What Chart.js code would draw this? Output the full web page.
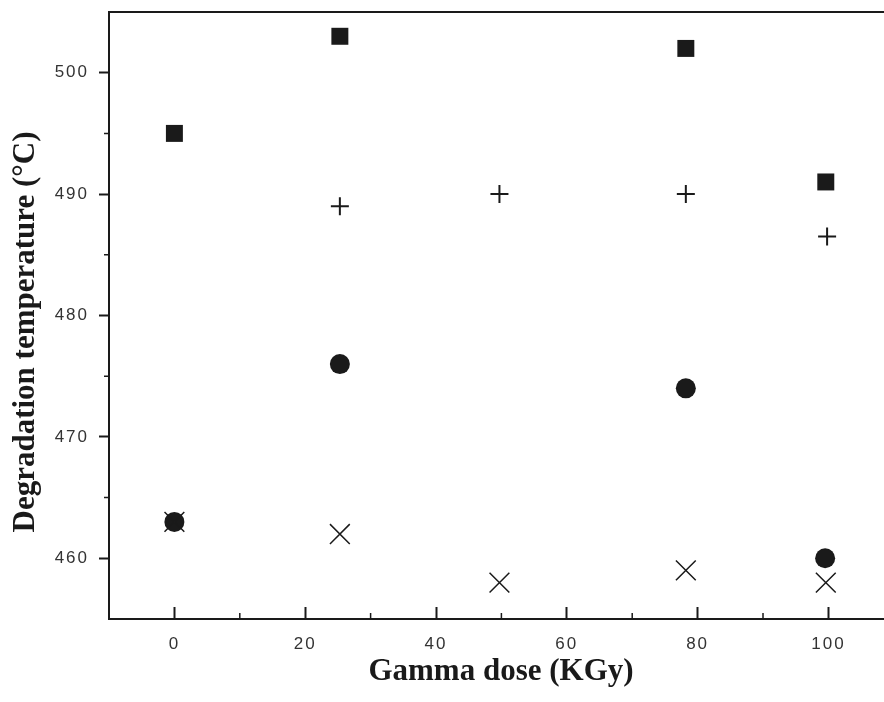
<!DOCTYPE html>
<html>
<head>
<meta charset="utf-8">
<script src="https://cdn.jsdelivr.net/npm/chart.js@4.4.0/dist/chart.umd.min.js"></script>
<style>
  html, body { margin: 0; padding: 0; background: #fff; }
  #wrap { width: 884px; height: 702px; }
</style>
</head>
<body>
<div id="wrap"><canvas id="chart"></canvas></div>
<script>
// Gamma dose (KGy) vs degradation temperature (°C)
const squareDose = [0, 25.3, 78.2, 99.6];
const squareTemp = [495, 503, 502, 491];
const plusDose = [25.3, 49.7, 78.2, 99.8];
const plusTemp = [489, 490, 490, 486.5];
const circleDose = [0, 25.3, 78.2, 99.5];
const circleTemp = [463, 476, 474, 460];
const crossDose = [0, 25.3, 49.7, 78.2, 99.6];
const crossTemp = [463, 462, 458, 459, 458];

const xTicks = [0, 20, 40, 60, 80, 100];
const yTicks = [460, 470, 480, 490, 500];

const xTitle = 'Gamma dose (KGy)';
const yTitle = 'Degradation temperature (°C)';

const toPoints = (xs, ys) => xs.map((x, i) => ({ x: x, y: ys[i] }));

const ink = '#1a1a1a';
const titleFont = 'bold 31px "Liberation Serif", "Times New Roman", serif';

// spaced-out digits like the scanned figure
const spacing = {
  id: 'spacing',
  beforeDraw(chart) { chart.ctx.letterSpacing = '2px'; }
};

// top border line, minor ticks and axis titles
const frame = {
  id: 'frame',
  afterDraw(chart) {
    const { ctx, chartArea: a, scales } = chart;
    ctx.save();
    ctx.letterSpacing = '0px';
    ctx.strokeStyle = ink;
    ctx.lineWidth = 2;
    ctx.beginPath();
    ctx.moveTo(a.left, a.top);
    ctx.lineTo(a.right, a.top);
    ctx.stroke();
    ctx.lineWidth = 1.5;
    ctx.beginPath();
    for (let v = -10; v <= 110; v += 20) {
      const px = scales.x.getPixelForValue(v);
      if (px < a.left + 2 || px > a.right) continue;
      ctx.moveTo(px, a.bottom);
      ctx.lineTo(px, a.bottom - 6);
    }
    for (let v = 455; v <= 505; v += 10) {
      const py = scales.y.getPixelForValue(v);
      if (py < a.top + 2 || py > a.bottom - 2) continue;
      ctx.moveTo(a.left, py);
      ctx.lineTo(a.left - 5, py);
    }
    ctx.stroke();

    ctx.fillStyle = ink;
    ctx.font = titleFont;
    ctx.textAlign = 'center';
    ctx.textBaseline = 'middle';
    ctx.fillText(xTitle, 501, 672);
    ctx.translate(26, 332);
    ctx.rotate(-Math.PI / 2);
    ctx.fillText(yTitle, 0, 0);
    ctx.restore();
  }
};

new Chart(document.getElementById('chart'), {
  type: 'scatter',
  data: {
    datasets: [
      {
        label: 'square',
        data: toPoints(squareDose, squareTemp),
        pointStyle: 'rect',
        pointRadius: 12,
        backgroundColor: ink,
        borderColor: ink,
        borderWidth: 0
      },
      {
        label: 'plus',
        data: toPoints(plusDose, plusTemp),
        pointStyle: 'cross',
        pointRadius: 9,
        borderColor: ink,
        borderWidth: 2
      },
      {
        label: 'cross',
        data: toPoints(crossDose, crossTemp),
        pointStyle: 'crossRot',
        pointRadius: 14,
        borderColor: ink,
        borderWidth: 1.5
      },
      {
        label: 'circle',
        data: toPoints(circleDose, circleTemp),
        pointStyle: 'circle',
        pointRadius: 10,
        backgroundColor: ink,
        borderColor: ink,
        borderWidth: 0
      }
    ]
  },
  options: {
    responsive: true,
    maintainAspectRatio: false,
    animation: false,
    layout: { autoPadding: false, padding: { top: 12, right: 0, left: 0, bottom: 0 } },
    plugins: {
      legend: { display: false },
      tooltip: { enabled: false }
    },
    scales: {
      x: {
        type: 'linear',
        min: -10,
        max: 108.5,
        afterBuildTicks: (s) => { s.ticks = xTicks.map(v => ({ value: v })); },
        afterFit: (s) => { s.height = 83; s.paddingLeft = 0; s.paddingRight = 0; },
        grid: {
          display: true,
          drawOnChartArea: false,
          drawTicks: true,
          tickLength: -12,
          tickWidth: 2,
          tickColor: ink
        },
        border: { display: true, color: ink, width: 2 },
        ticks: {
          color: '#333',
          padding: 27,
          font: { family: 'Liberation Sans, Arial', size: 17 }
        }
      },
      y: {
        type: 'linear',
        min: 455,
        max: 505,
        afterBuildTicks: (s) => { s.ticks = yTicks.map(v => ({ value: v })); },
        afterFit: (s) => { s.width = 109; s.paddingTop = 0; s.paddingBottom = 0; },
        grid: {
          display: true,
          drawOnChartArea: false,
          drawTicks: true,
          tickLength: 10,
          tickWidth: 2,
          tickColor: ink
        },
        border: { display: true, color: ink, width: 2 },
        ticks: {
          color: '#333',
          padding: 10,
          font: { family: 'Liberation Sans, Arial', size: 17 }
        }
      }
    }
  },
  plugins: [spacing, frame]
});
</script>
</body>
</html>
